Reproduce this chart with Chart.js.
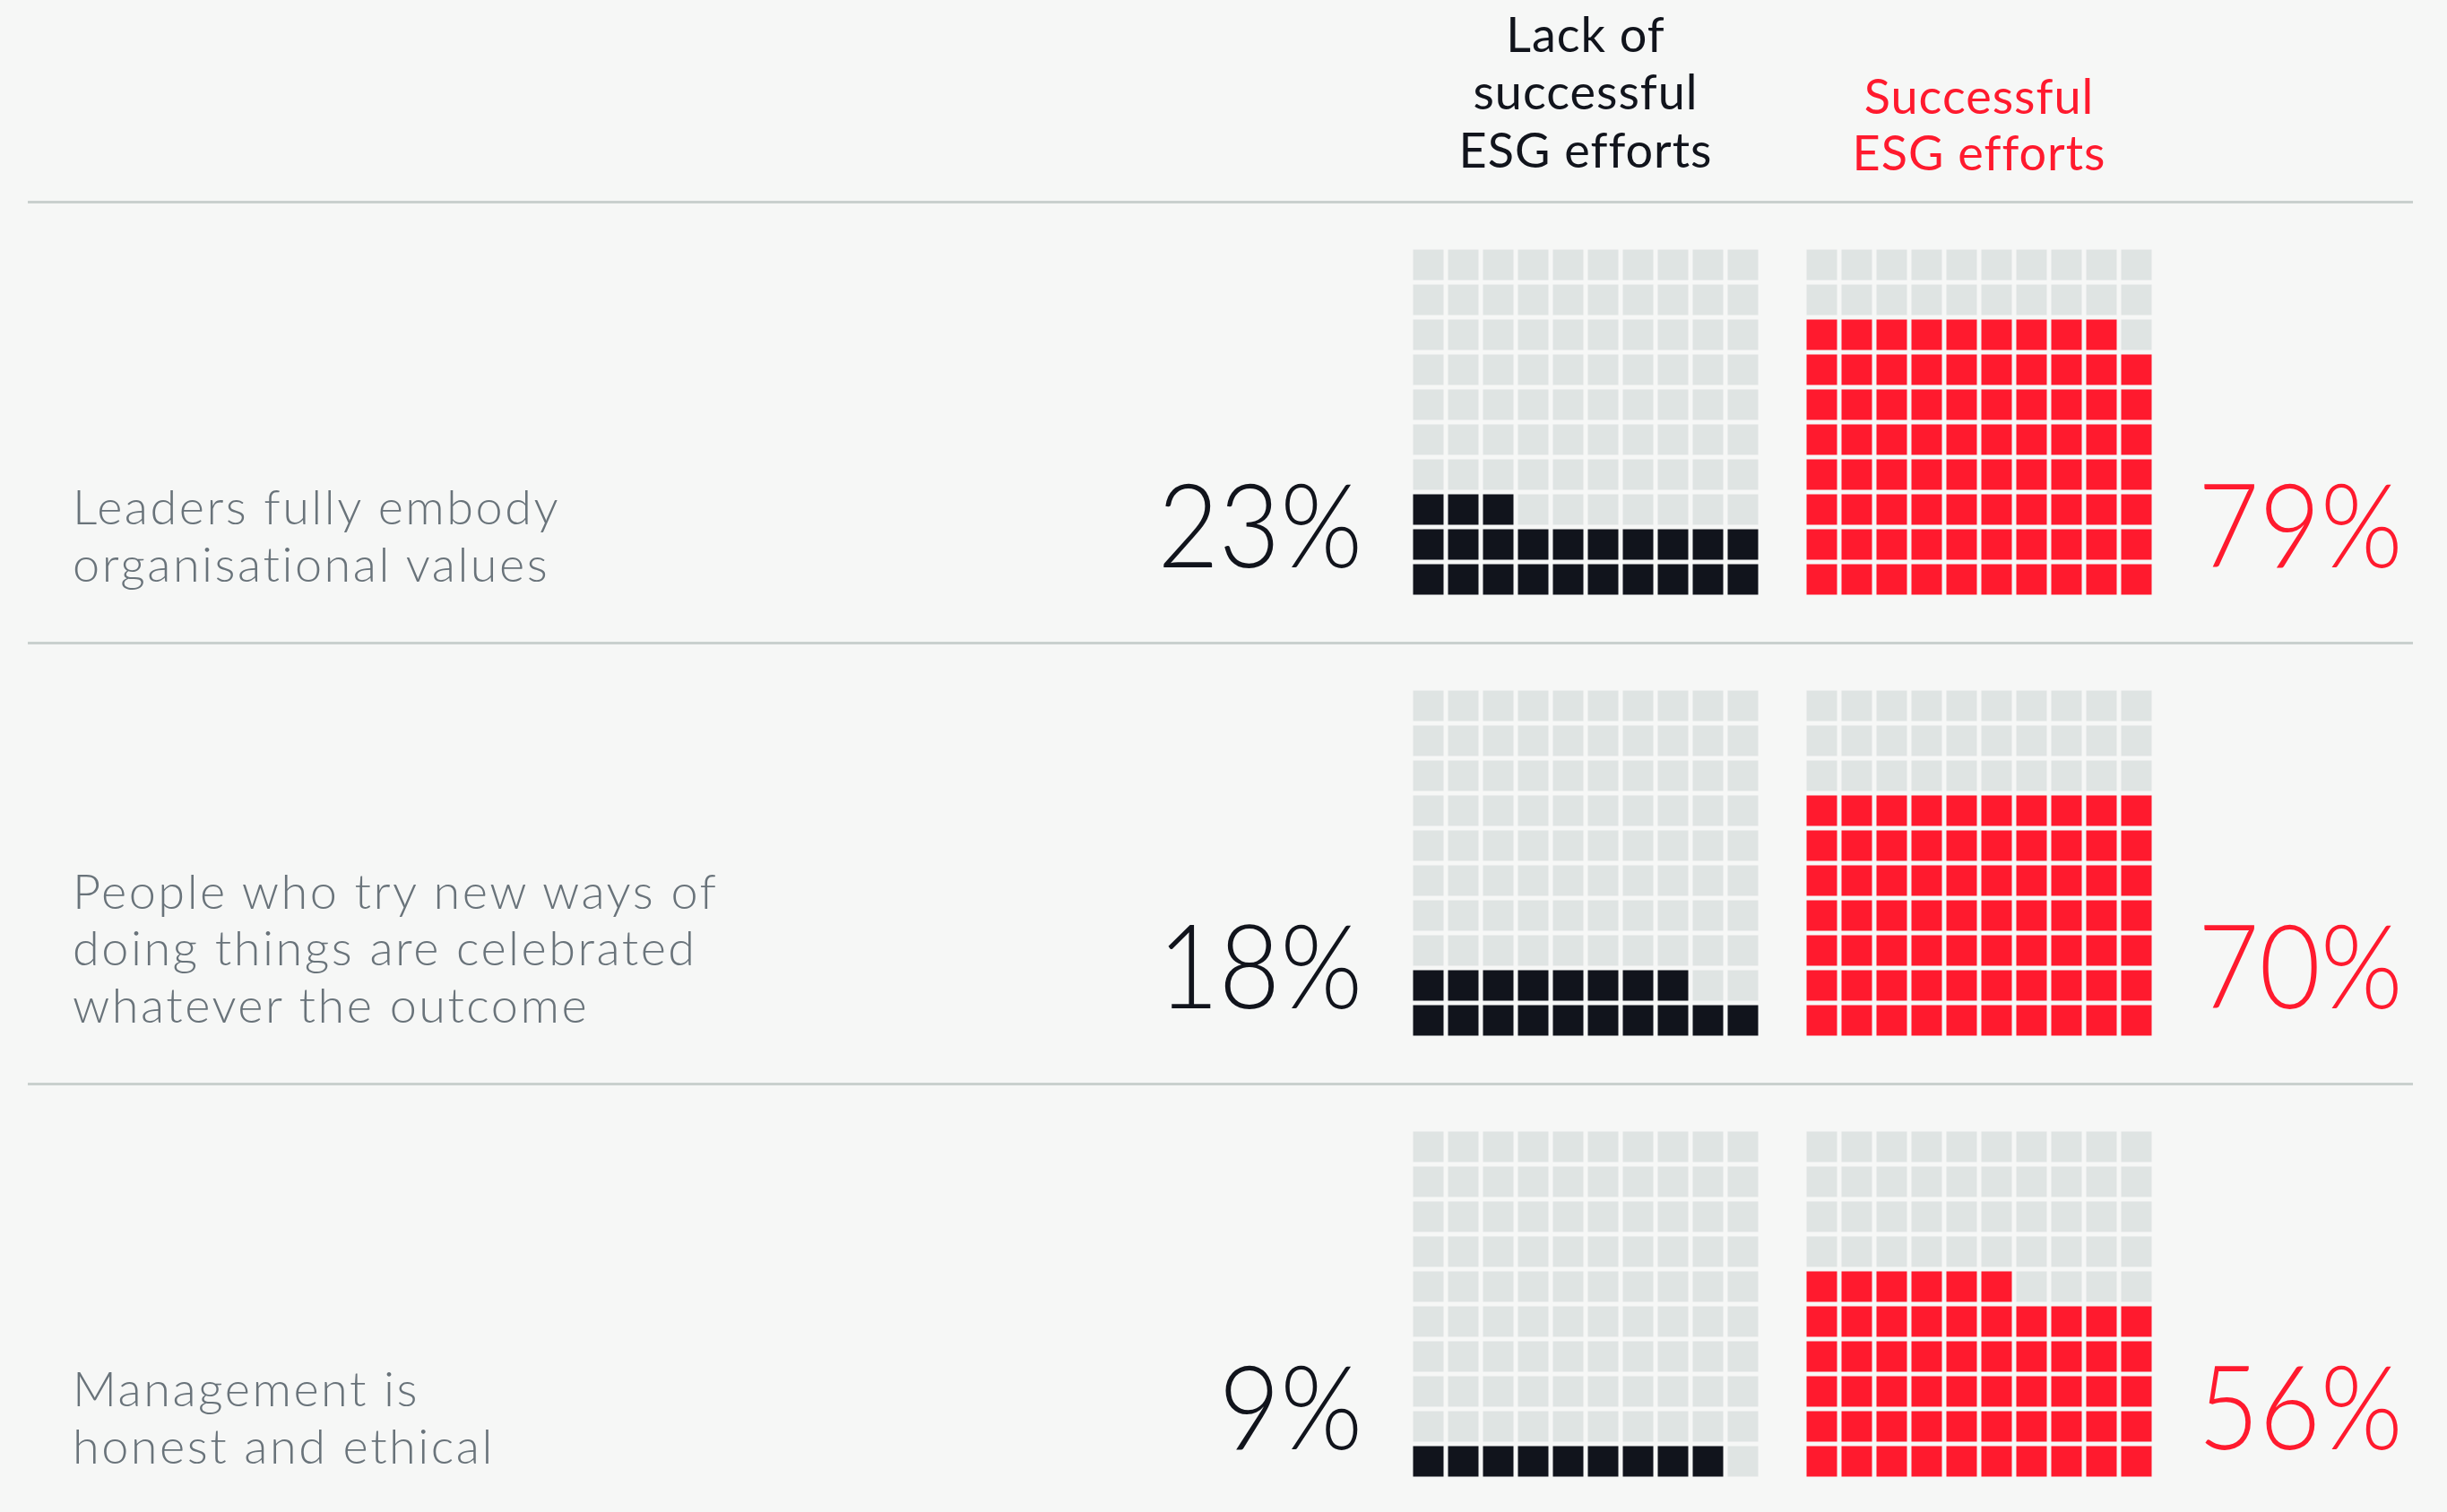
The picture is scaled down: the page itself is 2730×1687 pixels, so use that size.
<!DOCTYPE html>
<html>
<head>
<meta charset="utf-8">
<script src="https://cdn.jsdelivr.net/npm/chart.js@4.4.0/dist/chart.umd.min.js"></script>
<style>
  html, body { margin: 0; padding: 0; background: #f6f7f6; }
  #page { position: relative; width: 2730px; height: 1687px; overflow: hidden; font-family: Lato, sans-serif; }
  .t { position: absolute; white-space: nowrap; }
  .pct { font-feature-settings: "pnum"; font-variant-numeric: proportional-nums; }
  .rule { position: absolute; left: 31px; width: 2661px; height: 3px; background: #c9d0ce; }
  canvas { position: absolute; }
</style>
</head>
<body>
<div id="page"></div>
<script>
// data
const categories = [
  ['Leaders fully embody', 'organisational values'],
  ['People who try new ways of', 'doing things are celebrated', 'whatever the outcome'],
  ['Management is', 'honest and ethical']
];
const seriesNames = [
  ['Lack of', 'successful', 'ESG efforts'],
  ['Successful', 'ESG efforts']
];
const lackValues = [23, 18, 9];
const successValues = [79, 70, 56];
const gridColumns = ['1', '2', '3', '4', '5', '6', '7', '8', '9', '10'];
const gridRows = 10;

// look
const DARK = '#11141c';
const RED = '#ff1a2e';
const EMPTY = '#dfe4e3';
const LABEL_GREY = '#69737a';
const FONT = 'Lato';
const PITCH = 39;
const CELL = 34;

const page = document.getElementById('page');
const mctx = document.createElement('canvas').getContext('2d');

// put one line of text so its baseline lands on y
function text(str, x, baseline, size, weight, color, align, extra) {
  extra = extra || {};
  mctx.font = `${weight} ${size}px ${FONT}`;
  const m = mctx.measureText('Hg');
  const A = m.fontBoundingBoxAscent, D = m.fontBoundingBoxDescent;
  const lh = Math.round(size * 1.3);
  const el = document.createElement('div');
  el.className = 't' + (extra.cls ? ' ' + extra.cls : '');
  el.textContent = str;
  el.style.font = `${weight} ${size}px ${FONT}`;
  el.style.lineHeight = lh + 'px';
  el.style.color = color;
  if (extra.spacing) el.style.letterSpacing = extra.spacing + 'px';
  el.style.top = (baseline - ((lh - (A + D)) / 2 + A)) + 'px';
  const sx = extra.squeeze ? ` scaleX(${extra.squeeze})` : '';
  if (align === 'right') {
    el.style.right = (2730 - x) + 'px';
    el.style.transformOrigin = 'right center';
    el.style.transform = sx;
  } else if (align === 'center') {
    el.style.left = x + 'px';
    el.style.transform = 'translateX(-50%)' + sx;
  } else {
    el.style.left = x + 'px';
    el.style.transformOrigin = 'left center';
    el.style.transform = sx;
  }
  page.appendChild(el);
}

function rule(y) {
  const el = document.createElement('div');
  el.className = 'rule';
  el.style.top = y + 'px';
  page.appendChild(el);
}

function waffle(x, y, value, color) {
  const cv = document.createElement('canvas');
  cv.width = PITCH * gridColumns.length;
  cv.height = PITCH * gridRows;
  cv.style.left = x + 'px';
  cv.style.top = y + 'px';
  page.appendChild(cv);
  const inset = (PITCH - CELL) / 2 / PITCH;
  new Chart(cv, {
    type: 'bar',
    data: {
      labels: gridColumns,
      datasets: Array.from({ length: gridRows }, (_, r) => ({
        data: gridColumns.map(() => [r + inset, r + 1 - inset]),
        backgroundColor: c => (r * gridColumns.length + c.dataIndex < value ? color : EMPTY),
        borderWidth: 0,
        grouped: false,
        barPercentage: CELL / PITCH,
        categoryPercentage: 1
      }))
    },
    options: {
      responsive: false,
      animation: false,
      events: [],
      layout: { padding: 0 },
      plugins: { legend: { display: false }, tooltip: { enabled: false } },
      scales: {
        x: { display: false },
        y: { display: false, min: 0, max: gridRows }
      }
    }
  });
}

// header
const leftCenter = 1574 + PITCH * 5;
const rightCenter = 2013 + PITCH * 5;
seriesNames[0].forEach((s, i) => text(s, leftCenter, 58 + i * 64.5, 54, 400, DARK, 'center', { spacing: 1 }));
seriesNames[1].forEach((s, i) => text(s, rightCenter, 127 + i * 63.5, 54, 400, RED, 'center', { spacing: 1 }));

rule(224);

const panelTops = [276, 768, 1260];
categories.forEach((lines, p) => {
  const top = panelTops[p];
  const lastBase = top + 373;
  lines.forEach((s, i) => text(s, 81, lastBase - (lines.length - 1 - i) * 63.5, 54, 300, LABEL_GREY, 'left', { spacing: 2.5 }));
  text(lackValues[p] + '%', 1520, top + 357, 131, 300, DARK, 'right', { cls: 'pct', squeeze: 0.9 });
  text(successValues[p] + '%', 2452, top + 357, 131, 300, RED, 'left', { cls: 'pct', squeeze: 0.9 });
  waffle(1574, top, lackValues[p], DARK);
  waffle(2013, top, successValues[p], RED);
  if (p < categories.length - 1) rule(top + 440);
});
</script>
</body>
</html>
